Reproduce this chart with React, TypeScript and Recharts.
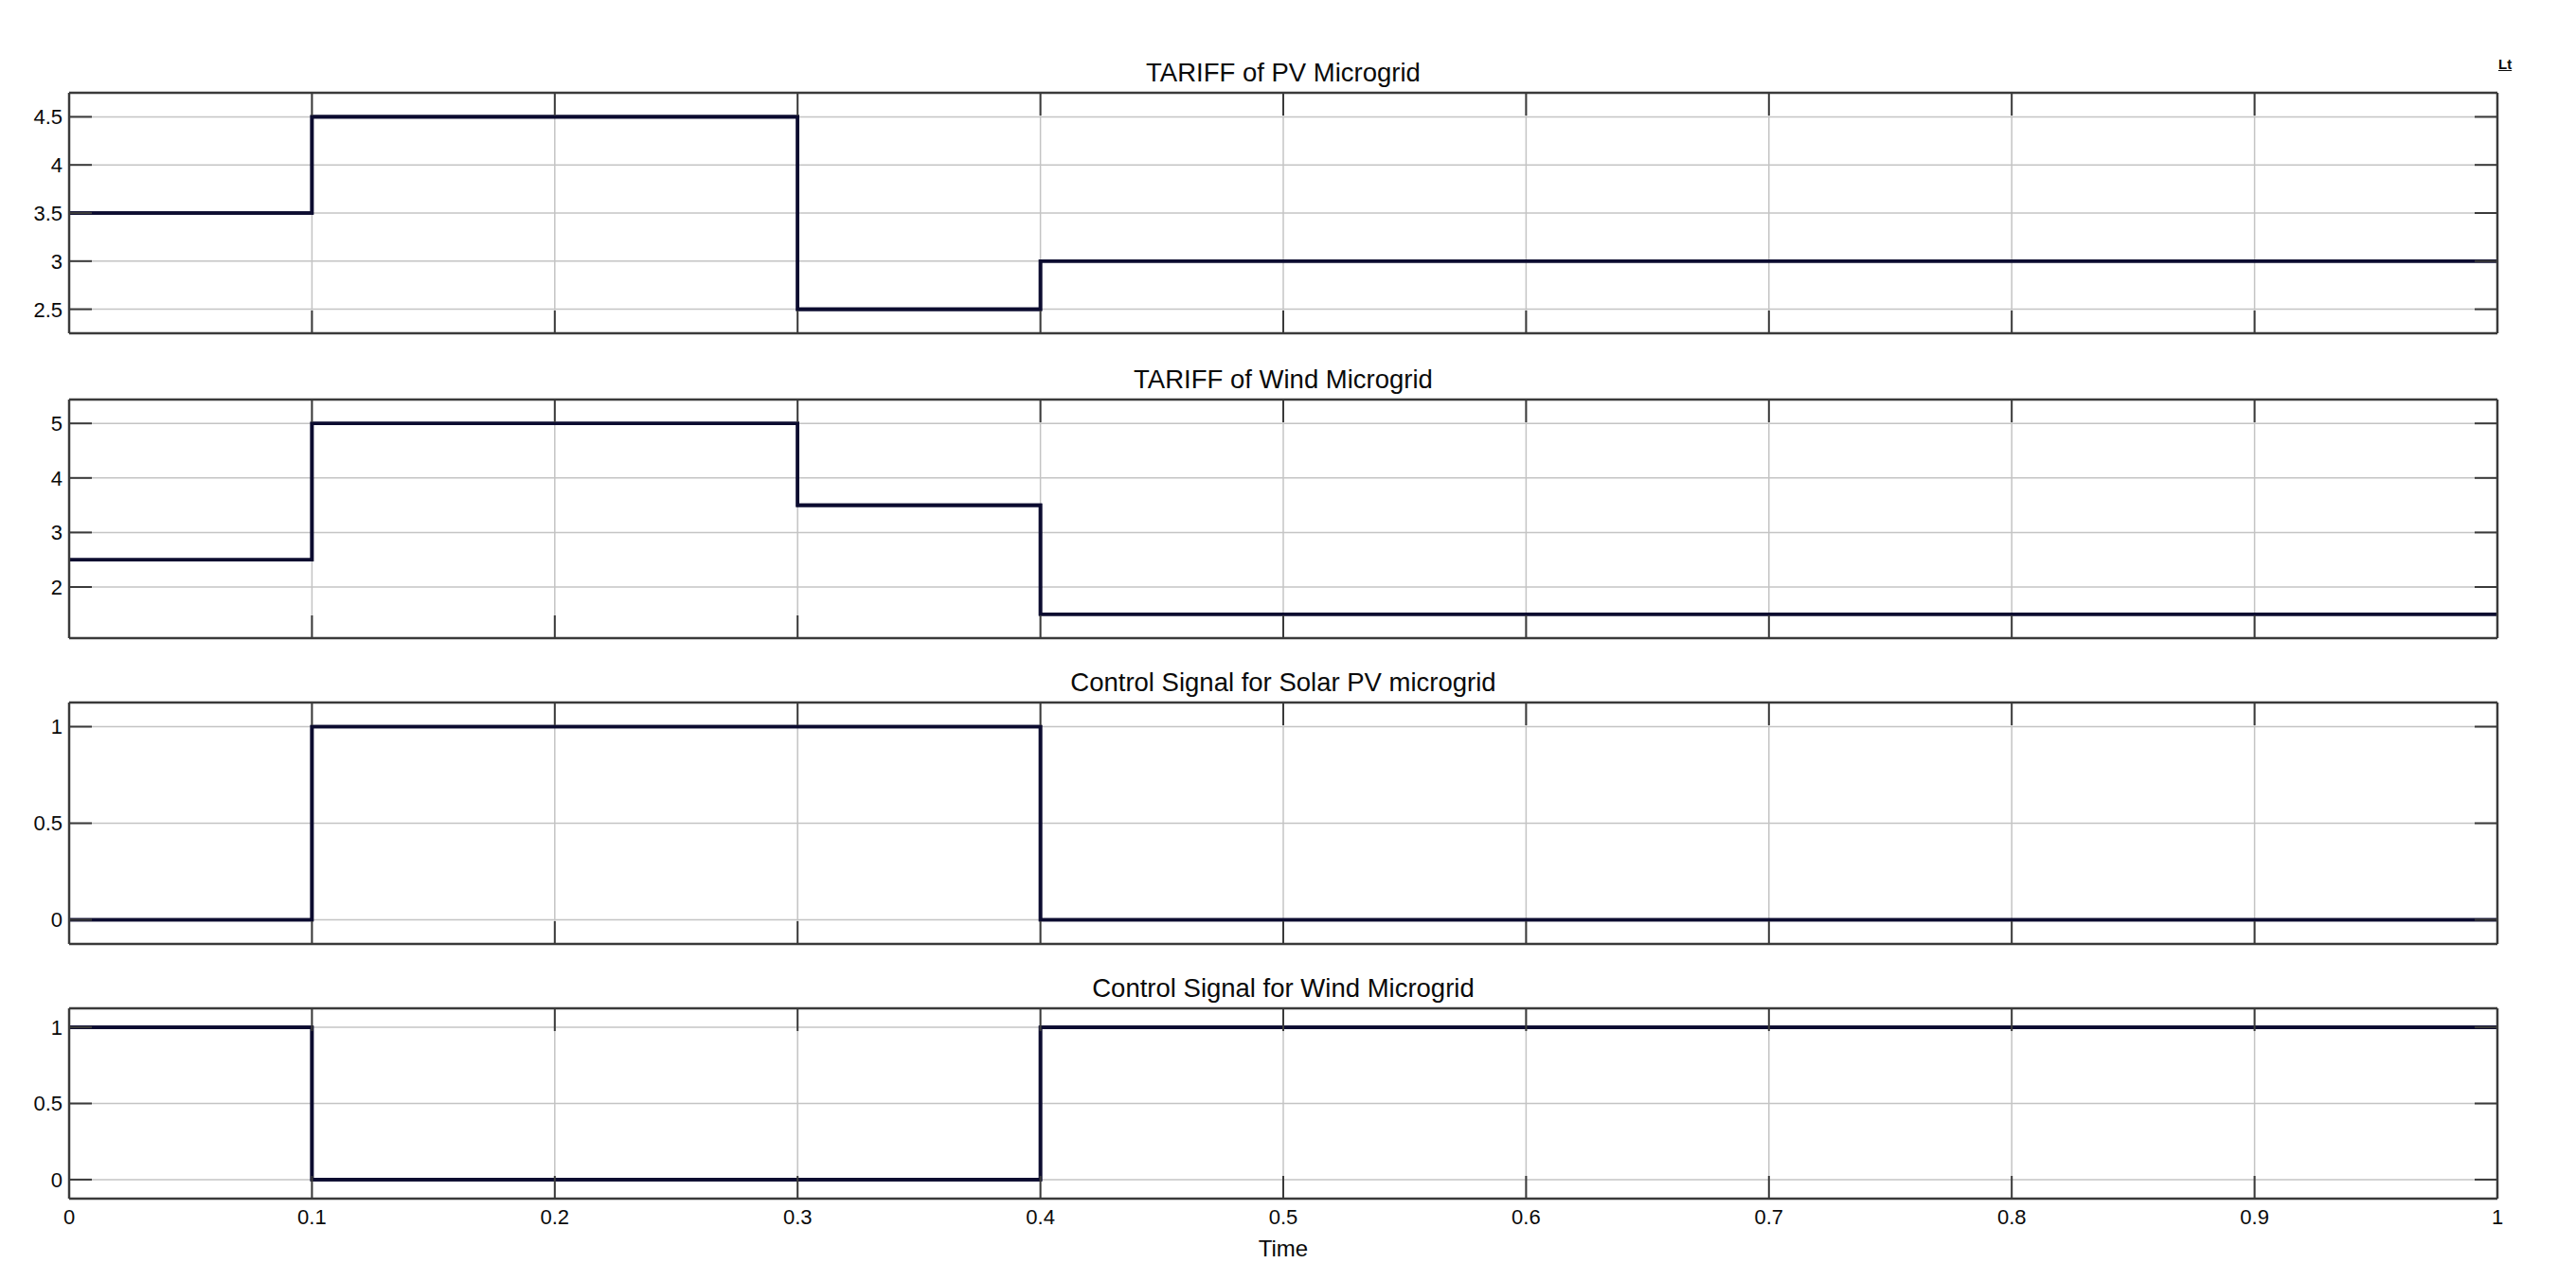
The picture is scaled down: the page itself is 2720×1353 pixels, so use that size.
import React from "react";
import { LineChart, Line, XAxis, YAxis, CartesianGrid } from "recharts";

const timeBreaks = [0, 0.1, 0.3, 0.4, 1];
const pvTariff = [3.5, 4.5, 2.5, 3, 3];
const windTariff = [2.5, 5, 3.5, 1.5, 1.5];
const solarControl = [0, 1, 1, 0, 0];
const windControl = [1, 0, 0, 1, 1];

const timeTicks = [0, 0.1, 0.2, 0.3, 0.4, 0.5, 0.6, 0.7, 0.8, 0.9, 1];
const pvTicks = [2.5, 3, 3.5, 4, 4.5];
const windTicks = [2, 3, 4, 5];
const controlTicks = [0, 0.5, 1];

const titles = [
  "TARIFF of PV Microgrid",
  "TARIFF of Wind Microgrid",
  "Control Signal for Solar PV microgrid",
  "Control Signal for Wind Microgrid",
];

const FONT = "'Liberation Sans', Arial, Helvetica, sans-serif";
const PAGE_W = 2720;
const PLOT_L = 73;
const PLOT_R = 2637;
const TOP_PAD = 50;
const BOTTOM_PAD = 50;
const TICK = 24;
const FRAME = "#3a3a3a";
const LINE = "#0c0c30";
const TEXT = "#0a0a0a";

function fmt(v: number) {
  return String(v);
}

function makeTick(side: "left" | "right" | "top" | "bottom", showLabel: boolean) {
  return (props: any) => {
    const { x, y, payload } = props;
    let x2 = x;
    let y2 = y;
    if (side === "left") x2 = x + TICK;
    if (side === "right") x2 = x - TICK;
    if (side === "bottom") y2 = y - TICK;
    if (side === "top") y2 = y + TICK;
    return (
      <g>
        <line x1={x} y1={y} x2={x2} y2={y2} stroke={FRAME} strokeWidth={2} />
        {showLabel && side === "left" && (
          <text x={x - 7} y={y} dy="0.36em" textAnchor="end" fontSize={22} fontFamily={FONT} fill={TEXT}>
            {fmt(payload.value)}
          </text>
        )}
        {showLabel && side === "bottom" && (
          <text x={x} y={y + 27} textAnchor="middle" fontSize={22} fontFamily={FONT} fill={TEXT}>
            {fmt(payload.value)}
          </text>
        )}
      </g>
    );
  };
}

type PanelProps = {
  values: number[];
  yTicks: number[];
  domain: [number, number];
  frameTop: number;
  frameBottom: number;
  title: string;
  showX: boolean;
};

function Panel({ values, yTicks, domain, frameTop, frameBottom, title, showX }: PanelProps) {
  const data = timeBreaks.map((t, i) => ({ t, v: values[i] }));
  const height = frameBottom - frameTop + TOP_PAD + 1 + BOTTOM_PAD;
  const axisLine = { stroke: FRAME, strokeWidth: 2.5 };
  return (
    <>
      <div
        style={{
          position: "absolute",
          left: PLOT_L,
          width: PLOT_R - PLOT_L,
          top: frameTop - 11 - 24,
          textAlign: "center",
          fontSize: 27.5,
          lineHeight: "27.5px",
          fontFamily: FONT,
          color: TEXT,
          whiteSpace: "nowrap",
        }}
      >
        {title}
      </div>
      <div style={{ position: "absolute", left: 0, top: frameTop - TOP_PAD - 1 }}>
        <LineChart
          width={PAGE_W}
          height={height}
          data={data}
          margin={{ top: TOP_PAD, right: PAGE_W - PLOT_R - 1, bottom: 0, left: 0 }}
        >
          <CartesianGrid stroke="#c4c4c4" strokeWidth={1.5} />
          <Line
            dataKey="v"
            type="stepAfter"
            stroke={LINE}
            strokeWidth={3.6}
            dot={false}
            isAnimationActive={false}
          />
          <Line
            dataKey="v"
            yAxisId="right"
            xAxisId="top"
            type="stepAfter"
            stroke={LINE}
            strokeWidth={3.6}
            dot={false}
            isAnimationActive={false}
          />
          <XAxis
            dataKey="t"
            type="number"
            domain={[0, 1]}
            ticks={timeTicks}
            interval={0}
            allowDataOverflow
            height={BOTTOM_PAD}
            tickSize={0}
            tickMargin={0}
            tickLine={false}
            tick={makeTick("bottom", showX)}
            axisLine={axisLine}
          />
          <XAxis
            xAxisId="top"
            dataKey="t"
            type="number"
            orientation="top"
            domain={[0, 1]}
            ticks={timeTicks}
            interval={0}
            allowDataOverflow
            height={1}
            tickSize={0}
            tickMargin={0}
            tickLine={false}
            tick={makeTick("top", false)}
            axisLine={axisLine}
          />
          <YAxis
            type="number"
            domain={domain}
            ticks={yTicks}
            interval={0}
            allowDataOverflow
            width={PLOT_L}
            tickSize={0}
            tickMargin={0}
            tickLine={false}
            tick={makeTick("left", true)}
            axisLine={axisLine}
          />
          <YAxis
            yAxisId="right"
            orientation="right"
            type="number"
            domain={domain}
            ticks={yTicks}
            interval={0}
            allowDataOverflow
            width={1}
            tickSize={0}
            tickMargin={0}
            tickLine={false}
            tick={makeTick("right", false)}
            axisLine={axisLine}
          />
        </LineChart>
      </div>
    </>
  );
}

export default function App() {
  return (
    <div
      style={{
        position: "absolute",
        left: 0,
        top: 0,
        width: PAGE_W,
        height: 1353,
        background: "#fff",
        fontFamily: FONT,
        overflow: "hidden",
      }}
    >
      <Panel values={pvTariff} yTicks={pvTicks} domain={[2.25, 4.75]} frameTop={98} frameBottom={352} title={titles[0]} showX={false} />
      <Panel values={windTariff} yTicks={windTicks} domain={[1.0625, 5.4375]} frameTop={422} frameBottom={674} title={titles[1]} showX={false} />
      <Panel values={solarControl} yTicks={controlTicks} domain={[-0.125, 1.125]} frameTop={742} frameBottom={997} title={titles[2]} showX={false} />
      <Panel values={windControl} yTicks={controlTicks} domain={[-0.125, 1.125]} frameTop={1065} frameBottom={1266} title={titles[3]} showX={true} />
      <div
        style={{
          position: "absolute",
          left: PLOT_L,
          width: PLOT_R - PLOT_L,
          top: 1307,
          textAlign: "center",
          fontSize: 24,
          lineHeight: "24px",
          fontFamily: FONT,
          color: TEXT,
        }}
      >
        Time
      </div>
      <div
        style={{
          position: "absolute",
          left: 2638,
          top: 60,
          fontSize: 15,
          lineHeight: "15px",
          fontWeight: "bold",
          fontFamily: FONT,
          color: TEXT,
          textDecoration: "underline",
        }}
      >
        Lt
      </div>
    </div>
  );
}
